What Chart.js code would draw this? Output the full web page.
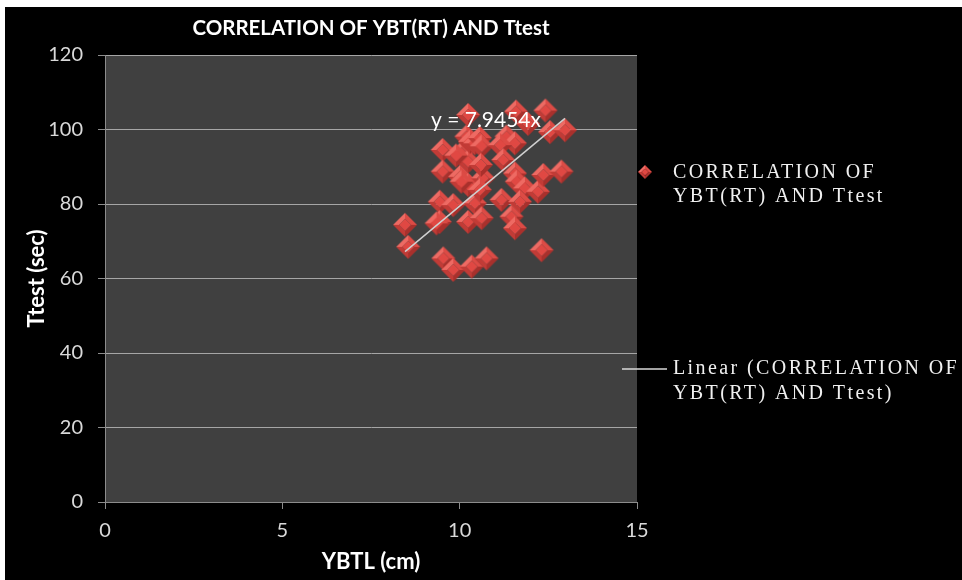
<!DOCTYPE html>
<html><head><meta charset="utf-8">
<script src="https://cdn.jsdelivr.net/npm/chart.js@4.4.1/dist/chart.umd.min.js"></script>
<style>
html,body{margin:0;padding:0;background:#fff;overflow:hidden;}
#wrap{position:absolute;left:5px;top:7px;width:957px;height:573px;background:#000;}
</style></head><body>
<div id="wrap"><canvas id="c" width="957" height="573"></canvas></div>
<script>
const chartTitle = 'CORRELATION OF YBT(RT) AND Ttest';
const xTitle = 'YBTL (cm)';
const yTitle = 'Ttest (sec)';
const seriesName = 'CORRELATION OF YBT(RT) AND Ttest';
const trendName = 'Linear (CORRELATION OF YBT(RT) AND Ttest)';
const equationLabel = 'y = 7.9454x';
const xTicks = [0, 5, 10, 15];
const yTicks = [0, 20, 40, 60, 80, 100, 120];

const ybtl = [8.46, 8.55, 9.44, 9.82, 9.44, 9.35, 9.52, 9.52, 9.54, 9.82,
              10.34, 10.76, 10.05, 10.24, 10.19, 10.29, 10.24, 10.43, 10.57, 10.62,
              10.01, 10.24, 10.66, 10.43, 10.57, 10.24, 10.62, 10.05, 11.32, 11.56,
              11.14, 11.23, 11.59, 12.42, 11.93, 12.55, 12.97, 11.56, 11.61, 11.84,
              12.21, 12.36, 12.87, 11.18, 11.70, 11.46, 11.56, 12.31, 10.60, 9.90];
const ttest = [74.4, 68.5, 80.6, 79.7, 75.2, 74.8, 94.5, 88.7, 65.4, 62.3,
               63.2, 65.4, 93.6, 91.4, 98.1, 96.7, 103.9, 96.3, 97.7, 95.5,
               87.3, 85.1, 86.9, 80.2, 83.8, 75.2, 76.2, 86.0, 98.1, 96.3,
               95.8, 91.8, 104.8, 105.1, 101.5, 99.3, 99.8, 88.2, 86.0, 84.2,
               83.3, 87.8, 88.7, 81.1, 80.6, 76.6, 73.5, 67.6, 90.5, 93.0];
const trendX = [8.46, 12.97];
const trendY = [67.2, 103.0];

function makeDiamond(r) {
  const s = 2 * r + 2;
  const c = document.createElement('canvas');
  c.width = s; c.height = s;
  const g = c.getContext('2d');
  const cx = s / 2, cy = s / 2, k = 0.5 * r;
  const T = [cx, cy - r], R = [cx + r, cy], B = [cx, cy + r], L = [cx - r, cy];
  const t = [cx, cy - k], rr = [cx + k, cy], b = [cx, cy + k], l = [cx - k, cy];
  function poly(pts, col) {
    g.beginPath(); g.moveTo(pts[0][0], pts[0][1]);
    for (let i = 1; i < pts.length; i++) g.lineTo(pts[i][0], pts[i][1]);
    g.closePath(); g.fillStyle = col; g.fill();
  }
  poly([L, T, t, l], '#ee6a63');
  poly([T, R, rr, t], '#dc4b45');
  poly([R, B, b, rr], '#a9302c');
  poly([B, L, l, b], '#c23b36');
  poly([t, rr, b, l], '#e04843');
  return c;
}
const diamond = makeDiamond(12);
const smallDiamond = makeDiamond(7);

const decor = {
  id: 'decor',
  beforeDraw(chart) {
    const { ctx, chartArea: a } = chart;
    ctx.save();
    ctx.fillStyle = '#404040';
    ctx.fillRect(a.left, a.top, a.right - a.left, a.bottom - a.top);
    ctx.restore();
  },
  afterDraw(chart) {
    const { ctx, chartArea: a } = chart;
    const xs = chart.scales.x, ys = chart.scales.y;
    ctx.save();
    // title
    ctx.fillStyle = '#ffffff';
    ctx.font = 'bold 20.5px Lato, "Open Sans", sans-serif';
    ctx.textAlign = 'center';
    ctx.textBaseline = 'middle';
    ctx.fillText(chartTitle, (a.left + a.right) / 2, 21);

    // equation
    ctx.font = '21px Lato, "Open Sans", sans-serif';
    ctx.textAlign = 'left';
    ctx.fillText(equationLabel, xs.getPixelForValue(9.19), ys.getPixelForValue(102.5));

    // legend
    ctx.font = '20px "Liberation Serif", "Times New Roman", serif';
    ctx.fillStyle = '#f0f0f0';
    try { ctx.letterSpacing = '2.4px'; } catch (e) {}
    ctx.drawImage(smallDiamond, 640 - smallDiamond.width / 2, 165 - smallDiamond.height / 2);
    ctx.fillText('CORRELATION OF', 668, 166);
    ctx.fillText('YBT(RT) AND Ttest', 668, 190);
    ctx.strokeStyle = '#d9d9d9';
    ctx.lineWidth = 1.5;
    ctx.beginPath(); ctx.moveTo(617, 362); ctx.lineTo(662, 362); ctx.stroke();
    ctx.fillText('Linear (CORRELATION OF', 668, 362);
    ctx.fillText('YBT(RT) AND Ttest)', 668, 387);
    ctx.restore();
  }
};

new Chart(document.getElementById('c'), {
  data: {
    datasets: [
      {
        type: 'line',
        label: trendName,
        data: trendX.map((x, i) => ({ x: x, y: trendY[i] })),
        borderColor: '#d0d0d0',
        borderWidth: 1.5,
        pointRadius: 0,
        fill: false,
        order: 0
      },
      {
        type: 'scatter',
        label: seriesName,
        data: ybtl.map((x, i) => ({ x: x, y: ttest[i] })),
        pointStyle: diamond,
        pointRadius: 12,
        order: 1
      }
    ]
  },
  plugins: [decor],
  options: {
    responsive: false,
    animation: false,
    devicePixelRatio: 1,
    layout: { padding: { top: 48, right: 325, left: 0, bottom: 0 } },
    plugins: {
      legend: { display: false },
      tooltip: { enabled: false },
      title: { display: false }
    },
    scales: {
      x: {
        type: 'linear',
        min: 0, max: 15,
        afterBuildTicks: s => { s.ticks = xTicks.map(v => ({ value: v })); },
        afterFit: s => { s.height = 78; },
        grid: { drawOnChartArea: false, drawTicks: true, tickLength: 7, color: '#8c8c8c' },
        border: { color: '#8c8c8c' },
        ticks: { color: '#d9d9d9', font: { family: 'Lato, sans-serif', size: 20 }, padding: 10 },
        title: { display: true, text: xTitle, color: '#ffffff',
                 font: { family: 'Lato, sans-serif', size: 22, weight: 'bold' },
                 padding: { top: 0, bottom: 5 } }
      },
      y: {
        type: 'linear',
        min: 0, max: 120,
        afterBuildTicks: s => { s.ticks = yTicks.map(v => ({ value: v })); },
        afterFit: s => { s.width = 100; },
        grid: { color: '#a6a6a6', drawTicks: true, tickLength: 7, tickColor: '#8c8c8c' },
        border: { color: '#8c8c8c' },
        ticks: { color: '#d9d9d9', font: { family: 'Lato, sans-serif', size: 20 }, padding: 15 },
        title: { display: true, text: yTitle, color: '#ffffff',
                 font: { family: 'Lato, sans-serif', size: 22, weight: 'bold' },
                 padding: { top: 19, bottom: 0 } }
      }
    }
  }
});
</script>
</body></html>
